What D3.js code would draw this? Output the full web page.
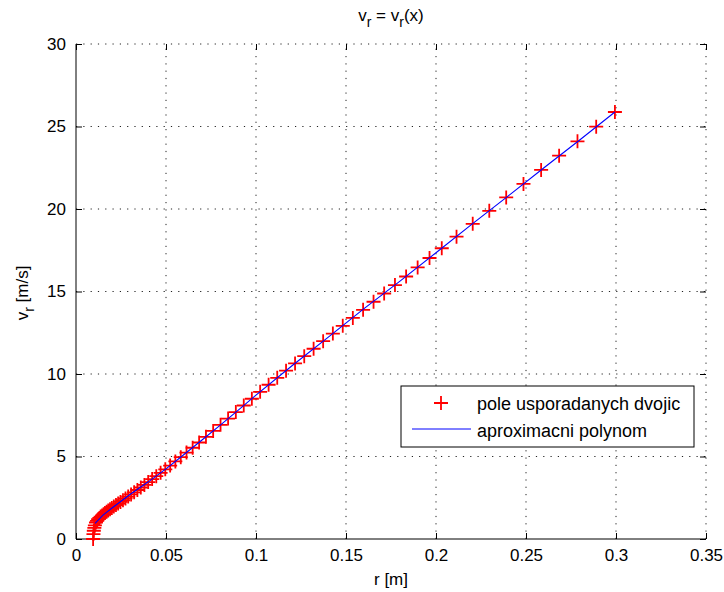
<!DOCTYPE html>
<html>
<head>
<meta charset="utf-8">
<script src="https://cdn.jsdelivr.net/npm/d3@7"></script>
<style>
  body { margin: 0; background: #fff; }
  svg { font-family: "Liberation Sans", Arial, sans-serif; }
  .tick text { font-size: 17px; fill: #000; }
</style>
</head>
<body>
<div class="chart"></div>
<script>
// measured pairs (r [m], v_r [m/s])
const rData = [0.0095, 0.0097, 0.0099, 0.0102, 0.0105, 0.0111, 0.0117, 0.0123, 0.0130, 0.0137,
  0.0145, 0.0153, 0.0161, 0.0170, 0.0179, 0.0189, 0.0199, 0.0210, 0.0222, 0.0234,
  0.0247, 0.0261, 0.0275, 0.0290, 0.0306, 0.0323, 0.0341, 0.0360, 0.0380, 0.0401,
  0.0423, 0.0446, 0.0470, 0.0496, 0.0523, 0.0552, 0.0582, 0.0614, 0.0648, 0.0684,
  0.0722, 0.0762, 0.0803, 0.0845, 0.0888, 0.0932, 0.0977, 0.1023, 0.1070, 0.1118,
  0.1167, 0.1217, 0.1268, 0.1320, 0.1373, 0.1427, 0.1482, 0.1538, 0.1595, 0.1653,
  0.1712, 0.1772, 0.1834, 0.1898, 0.1964, 0.2032, 0.2114, 0.2204, 0.2296, 0.239,
  0.2486, 0.2584, 0.2684, 0.2786, 0.289, 0.2994];
const vData = [0, 0.3, 0.5, 0.68, 0.82, 1.0, 1.1, 1.2, 1.28, 1.36,
  1.43, 1.505, 1.575, 1.65, 1.72, 1.80, 1.88, 1.97, 2.06, 2.15,
  2.25, 2.35, 2.46, 2.57, 2.70, 2.83, 2.97, 3.12, 3.28, 3.45,
  3.63, 3.81, 4.01, 4.22, 4.45, 4.70, 4.96, 5.24, 5.53, 5.85,
  6.19, 6.55, 6.92, 7.30, 7.69, 8.09, 8.50, 8.92, 9.35, 9.77,
  10.20, 10.64, 11.08, 11.53, 11.99, 12.45, 12.92, 13.40, 13.89, 14.38,
  14.88, 15.39, 15.91, 16.46, 17.03, 17.62, 18.32, 19.1, 19.89, 20.7,
  21.52, 22.37, 23.23, 24.1, 24.99, 25.88];

// fitted polynomial, sampled
const polyR = [0.0106, 0.015, 0.02, 0.03, 0.04, 0.05, 0.06, 0.07, 0.08, 0.09, 0.1,
  0.12, 0.14, 0.16, 0.18, 0.2, 0.22, 0.24, 0.26, 0.28, 0.2994];
const polyV = [0.95, 1.45, 1.88, 2.7, 3.45, 4.25, 5.12, 6.0, 6.89, 7.8, 8.72,
  10.5, 12.22, 13.96, 15.63, 17.35, 19.08, 20.78, 22.5, 24.2, 25.88];

const xTicks = [0, 0.05, 0.1, 0.15, 0.2, 0.25, 0.3, 0.35];
const yTicks = [0, 5, 10, 15, 20, 25, 30];
const legendLabels = ["pole usporadanych dvojic", "aproximacni polynom"];

const W = 724, H = 592;
const box = { left: 76, right: 706, top: 44, bottom: 539 };

const x = d3.scaleLinear([0, 0.35], [box.left, box.right]);
const y = d3.scaleLinear([0, 30], [box.bottom, box.top]);

const svg = d3.select(".chart").append("svg")
  .attr("width", W)
  .attr("height", H);

// grid (dotted), top/right borders look the same as the grid
const dots = "1.2 6.1";
svg.append("g").selectAll("line")
  .data(xTicks.slice(1))
  .join("line")
  .attr("x1", d => x(d)).attr("x2", d => x(d))
  .attr("y1", box.bottom).attr("y2", box.top)
  .attr("stroke", "#222").attr("stroke-dasharray", dots);
svg.append("g").selectAll("line")
  .data(yTicks.slice(1))
  .join("line")
  .attr("x1", box.left).attr("x2", box.right)
  .attr("y1", d => y(d)).attr("y2", d => y(d))
  .attr("stroke", "#222").attr("stroke-dasharray", dots);

// axes
const fmt = d => String(d);
const gx = svg.append("g")
  .attr("transform", `translate(0,${box.bottom})`)
  .call(d3.axisBottom(x).tickValues(xTicks).tickSize(-6).tickPadding(10).tickFormat(fmt));
const gy = svg.append("g")
  .attr("transform", `translate(${box.left},0)`)
  .call(d3.axisLeft(y).tickValues(yTicks).tickSize(-6).tickPadding(10).tickFormat(fmt));
const gt = svg.append("g")
  .attr("transform", `translate(0,${box.top})`)
  .call(d3.axisTop(x).tickValues(xTicks).tickSize(-6).tickFormat(""));
const gr = svg.append("g")
  .attr("transform", `translate(${box.right},0)`)
  .call(d3.axisRight(y).tickValues(yTicks).tickSize(-6).tickFormat(""));
[gx, gy, gt, gr].forEach(g => {
  g.selectAll(".tick line").attr("stroke", "#000");
  g.select(".domain").remove();
});
gt.selectAll("text").remove();
gr.selectAll("text").remove();
svg.append("path")
  .attr("d", `M${box.left},${box.top}V${box.bottom}H${box.right}`)
  .attr("fill", "none").attr("stroke", "#000");

// data markers
const points = rData.map((r, i) => [r, vData[i]]);
const plus = "M-7,0H7M0,-7V7";
svg.append("g").selectAll("path")
  .data(points)
  .join("path")
  .attr("transform", d => `translate(${x(d[0])},${y(d[1])})`)
  .attr("d", plus)
  .attr("stroke", "#ff0000")
  .attr("stroke-width", 1.8)
  .attr("fill", "none");

// polynomial
const poly = polyR.map((r, i) => [r, polyV[i]]);
svg.append("path")
  .datum(poly)
  .attr("d", d3.line().x(d => x(d[0])).y(d => y(d[1])))
  .attr("fill", "none")
  .attr("stroke", "#0000ff")
  .attr("stroke-width", 1.1);

// title
const title = svg.append("text")
  .attr("x", (box.left + box.right) / 2)
  .attr("y", 21)
  .attr("text-anchor", "middle")
  .style("font-size", "17px");
title.append("tspan").text("v");
title.append("tspan").text("r").attr("dy", 6).style("font-size", "14px");
title.append("tspan").text(" = v").attr("dy", -6);
title.append("tspan").text("r").attr("dy", 6).style("font-size", "14px");
title.append("tspan").text("(x)").attr("dy", -6);

// axis labels
svg.append("text")
  .attr("x", (box.left + box.right) / 2)
  .attr("y", 585)
  .attr("text-anchor", "middle")
  .style("font-size", "17px")
  .text("r [m]");

const ylab = svg.append("text")
  .attr("transform", "translate(28,293) rotate(-90)")
  .attr("text-anchor", "middle")
  .style("font-size", "17px");
ylab.append("tspan").text("v");
ylab.append("tspan").text("r").attr("dy", 6).style("font-size", "14px");
ylab.append("tspan").text(" [m/s]").attr("dy", -6);

// legend
const leg = svg.append("g");
leg.append("rect")
  .attr("x", 401).attr("y", 386)
  .attr("width", 293).attr("height", 61)
  .attr("fill", "#fff").attr("stroke", "#000");
leg.append("path")
  .attr("transform", "translate(441,403)")
  .attr("d", plus)
  .attr("stroke", "#ff0000").attr("stroke-width", 1.8);
leg.append("line")
  .attr("x1", 412).attr("x2", 471)
  .attr("y1", 429).attr("y2", 429)
  .attr("stroke", "#0000ff");
leg.selectAll("text.lab")
  .data(legendLabels)
  .join("text")
  .attr("class", "lab")
  .attr("x", 477)
  .attr("y", (d, i) => 410 + i * 26.5)
  .style("font-size", "18px")
  .text(d => d);
</script>
</body>
</html>
